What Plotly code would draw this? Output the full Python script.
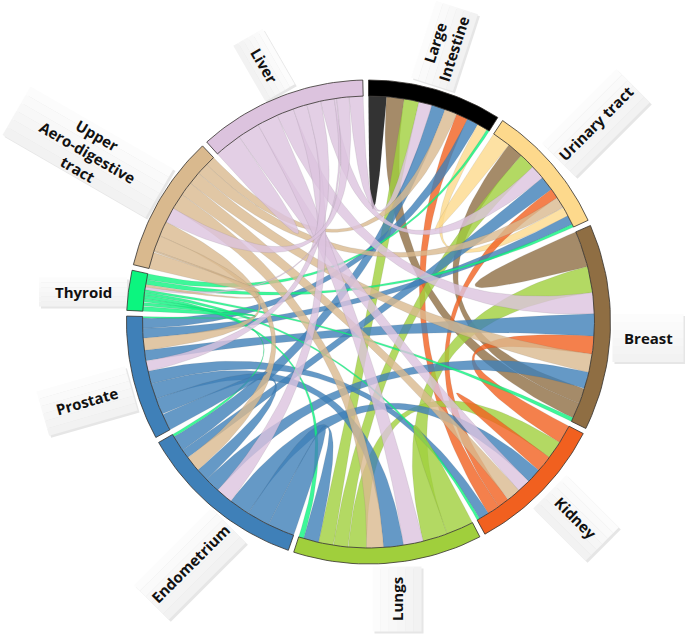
import numpy as np
import plotly.graph_objects as go

names = ["LI", "UT", "BR", "KI", "LU", "EN", "PR", "TH", "UA", "LV"]
fills = ["#000000", "#fdd98c", "#8f6e43", "#f1601f", "#a0cf3c", "#3f80b8", "#3f80b8", "#0cf57f", "#d9b98e", "#dcc3de"]
# a ribbon takes the colour of whichever end comes first in this list
colour_rank = ["LV", "UA", "TH", "PR", "EN", "LU", "KI", "BR", "UT", "LI"]

# bands of each sector, clockwise, with the sector at the other end
li_partners = ["LI", "BR", "LU", "LV", "EN", "UA", "KI", "PR", "UT", "TH"]
li_values = [4.6, 4.5, 3.8, 3.4, 3.5, 3.2, 3.0, 2.9, 2.7, 0.7]
ut_partners = ["UT", "BR", "LU", "LV", "EN", "KI", "UA", "LI", "PR", "TH"]
ut_values = [4.8, 4.1, 4.1, 3.7, 3.7, 2.6, 2.8, 2.5, 2.4, 0.8]
br_partners = ["BR", "LU", "LV", "PR", "KI", "UA", "EN", "UT", "LI", "TH"]
br_values = [9.3, 6.7, 5.4, 5.7, 4.6, 4.7, 4.2, 4.0, 4.0, 1.0]
ki_partners = ["BR", "LU", "KI", "EN", "LV", "UA", "UT", "LI", "PR", "TH"]
ki_values = [4.8, 4.6, 4.2, 3.8, 3.4, 3.5, 3.0, 3.2, 2.6, 0.7]
lu_partners = ["LU", "BR", "LV", "PR", "UA", "KI", "UT", "LI", "EN", "TH"]
lu_values = [7.0, 6.4, 5.1, 5.1, 4.3, 4.6, 3.8, 3.9, 3.9, 1.3]
en_partners = ["EN", "LU", "KI", "LV", "BR", "PR", "UA", "UT", "LI", "TH"]
en_values = [6.9, 5.9, 5.4, 4.3, 3.9, 3.3, 4.0, 2.4, 4.0, 0.7]
pr_partners = ["PR", "EN", "LU", "KI", "LV", "BR", "UA", "UT", "LI", "TH"]
pr_values = [4.3, 4.3, 4.0, 3.3, 2.6, 2.8, 3.1, 2.5, 2.6, 0.4]
th_partners = ["TH", "PR", "EN", "LU", "KI", "BR", "LV", "UA", "UT", "LI"]
th_values = [1.2, 1.0, 0.9, 0.9, 0.8, 0.7, 0.7, 0.6, 1.3, 1.5]
ua_partners = ["UA", "TH", "PR", "EN", "LV", "LU", "KI", "BR", "UT", "LI"]
ua_values = [4.2, 0.5, 4.0, 3.9, 3.9, 4.1, 3.6, 3.3, 3.0, 2.5]
lv_partners = ["LV", "KI", "LU", "BR", "EN", "PR", "UT", "TH", "UA", "LI"]
lv_values = [7.0, 5.7, 5.4, 4.4, 3.6, 3.6, 3.5, 0.6, 3.2, 3.6]

partners = [li_partners, ut_partners, br_partners, ki_partners, lu_partners,
            en_partners, pr_partners, th_partners, ua_partners, lv_partners]
values = [li_values, ut_values, br_values, ki_values, lu_values,
          en_values, pr_values, th_values, ua_values, lv_values]

# text, centre x, centre y (page pixels), angle, box width, box height
labels = [
    ("Large<br>Intestine", 444.5, 46, -72, 81, 44),
    ("Urinary tract", 596, 123, -45, 105, 47),
    ("Breast", 648, 338, 0, 71, 48),
    ("Kidney", 576, 518, 45, 74, 47),
    ("Lungs", 397, 599, -90, 65, 49),
    ("Endometrium", 190, 564, -45, 109, 49),
    ("Prostate", 87, 401, -16, 92, 46),
    ("Thyroid", 83, 292, 0, 88, 29),
    ("Upper<br>Aero-digestive<br>tract", 88, 152, 30, 165, 56),
    ("Liver", 264, 65, 60, 64, 34),
]

W, H = 685, 634
cx, cy = 368.5, 322
r_out, r_in = 242, 226
gap = 1.35


def point(deg, r):
    t = np.radians(deg)
    return r * np.sin(t), r * np.cos(t)


def arc(a, b, r):
    return point(np.linspace(a, b, 30), r)


def to_centre(a, b):
    # quadratic bezier from angle a to angle b with its control point at the centre
    x0, y0 = point(a, r_in)
    x1, y1 = point(b, r_in)
    s = np.linspace(0, 1, 50)
    return (1 - s) ** 2 * x0 + s ** 2 * x1, (1 - s) ** 2 * y0 + s ** 2 * y1


def rgba(col, op):
    c = col.lstrip("#")
    return "rgba(%d,%d,%d,%s)" % (int(c[:2], 16), int(c[2:4], 16), int(c[4:], 16), op)


# lay the bands out round the circle
start = 0.0
spans = {}
bands = {}
for i, n in enumerate(names):
    a = start
    for p, v in zip(partners[i], values[i]):
        bands[(n, p)] = (a, a + v)
        a += v
    spans[n] = (start, a)
    start = a + gap

fig = go.Figure()

# label boxes go under the circle
for text, lx, ly, ang, bw, bh in labels:
    t = np.radians(-ang)
    ux, uy = np.cos(t), np.sin(t)
    vx, vy = -uy, ux
    x = lx - cx
    y = cy - ly
    fig.add_trace(go.Scatter(
        x=[x + d * ux * bw / 2 + e * vx * bh / 2 + 2 for d, e in [(-1, -1), (1, -1), (1, 1), (-1, 1), (-1, -1)]],
        y=[y + d * uy * bw / 2 + e * vy * bh / 2 - 2 for d, e in [(-1, -1), (1, -1), (1, 1), (-1, 1), (-1, -1)]],
        fill="toself", fillcolor="#e6e6e6", mode="none", hoverinfo="skip"))
    for k in range(6):
        e0, e1 = 1 - k / 3, 1 - (k + 1) / 3
        shade = 252 - k * 2
        fig.add_trace(go.Scatter(
            x=[x + d * ux * bw / 2 + e * vx * bh / 2 for d, e in [(-1, e0), (1, e0), (1, e1), (-1, e1), (-1, e0)]],
            y=[y + d * uy * bw / 2 + e * vy * bh / 2 for d, e in [(-1, e0), (1, e0), (1, e1), (-1, e1), (-1, e0)]],
            fill="toself", fillcolor="rgb(%d,%d,%d)" % (shade, shade, shade),
            mode="none", hoverinfo="skip"))

# ribbons
done = set()
for i, n in enumerate(names):
    for p in partners[i]:
        key = tuple(sorted((n, p)))
        if key in done:
            continue
        done.add(key)
        a0, a1 = bands[(n, p)]
        if n == p:
            xs = [arc(a0, a1, r_in)[0], to_centre(a1, a0)[0]]
            ys = [arc(a0, a1, r_in)[1], to_centre(a1, a0)[1]]
        else:
            b0, b1 = bands[(p, n)]
            xs = [arc(a0, a1, r_in)[0], to_centre(a1, b0)[0], arc(b0, b1, r_in)[0], to_centre(b1, a0)[0]]
            ys = [arc(a0, a1, r_in)[1], to_centre(a1, b0)[1], arc(b0, b1, r_in)[1], to_centre(b1, a0)[1]]
        owner = min(n, p, key=colour_rank.index)
        col = fills[names.index(owner)]
        fig.add_trace(go.Scatter(
            x=np.concatenate(xs), y=np.concatenate(ys), fill="toself",
            fillcolor=rgba(col, 0.8), mode="lines",
            line=dict(color=rgba("#555555", 0.18), width=0.6), hoverinfo="skip"))

# outer ring
for i, n in enumerate(names):
    a, b = spans[n]
    ox, oy = arc(a, b, r_out)
    ix, iy = arc(b, a, r_in)
    fig.add_trace(go.Scatter(
        x=np.concatenate([ox, ix, ox[:1]]), y=np.concatenate([oy, iy, oy[:1]]),
        fill="toself", fillcolor=fills[i], mode="lines",
        line=dict(color="#33302c", width=0.8), hoverinfo="skip"))

for text, lx, ly, ang, bw, bh in labels:
    fig.add_annotation(x=lx - cx, y=cy - ly, text="<b>%s</b>" % text, textangle=ang,
                       showarrow=False, font=dict(family="Open Sans", size=15, color="#111111"))

fig.update_layout(
    width=W, height=H, margin=dict(l=0, r=0, t=0, b=0), showlegend=False,
    paper_bgcolor="white", plot_bgcolor="white",
    xaxis=dict(range=[-cx, W - cx], visible=False, fixedrange=True),
    yaxis=dict(range=[cy - H, cy], visible=False, fixedrange=True))

# the page's default body margin would push the plot 8px off
fig.write_html("out.html", config={"displayModeBar": False},
               post_script="document.body.style.margin='0';document.body.style.overflow='hidden';")
